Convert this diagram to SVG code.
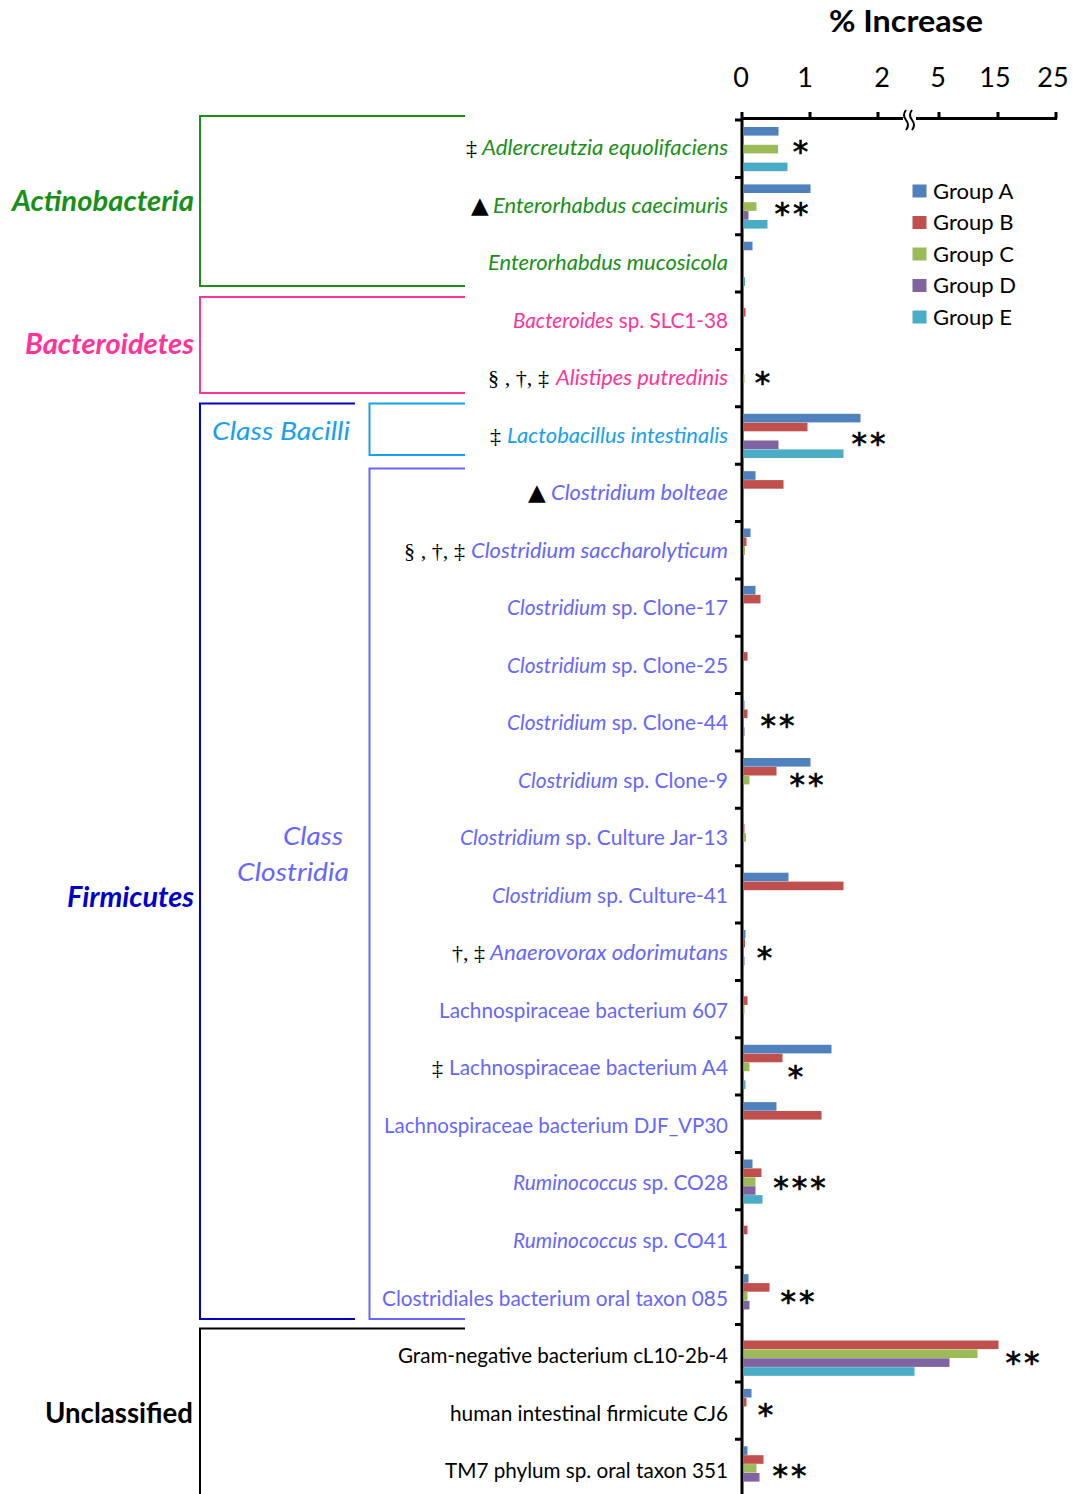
<svg xmlns="http://www.w3.org/2000/svg" width="1073" height="1494" viewBox="0 0 1073 1494">
<style>
.sp{font-family:Lato,"Open Sans","Liberation Sans",sans-serif;font-size:21px}
.it{font-style:italic}
.sym{font-family:"Liberation Serif","DejaVu Serif",serif;font-size:22px;fill:#000}
.tri{font-family:"DejaVu Sans",sans-serif;font-size:23px;fill:#000}
.phy{font-family:Lato,"Open Sans","Liberation Sans",sans-serif;font-size:28px;font-weight:bold}
.cls{font-family:Lato,"Open Sans","Liberation Sans",sans-serif;font-size:26px;font-style:italic}
.ax{font-family:Lato,"Open Sans","Liberation Sans",sans-serif;font-size:27px;fill:#000}
.lg{font-family:Lato,"Open Sans","Liberation Sans",sans-serif;font-size:22px;fill:#000}
.st{font-family:"DejaVu Sans",sans-serif;font-size:31px;fill:#000;stroke:#000;stroke-width:0.7;letter-spacing:3px}
.A{fill:#4F81BD}.B{fill:#C0504D}.C{fill:#9BBB59}.D{fill:#8064A2}.E{fill:#4BACC6}
.green{fill:#189018}.pink{fill:#FF3399}.lblue{fill:#18A0F0}.peri{fill:#6666FF}.dblue{fill:#0000CC}.blk{fill:#000}
.br{fill:none;stroke-width:2}
</style>

<g id="title"><text x="906" y="32" text-anchor="middle" font-family="Lato,'Open Sans','Liberation Sans',sans-serif" font-size="30" font-weight="bold" textLength="154" lengthAdjust="spacingAndGlyphs">% Increase</text></g>

<g id="axes" stroke="#000" stroke-width="3" fill="none">
<line x1="742" y1="112" x2="742" y2="1494"/>
<line x1="742" y1="118.5" x2="903" y2="118.5"/>
<line x1="916" y1="118.5" x2="1057" y2="118.5"/>
<path d="M810 112V118.5M878 112V118.5M939 112V118.5M998 112V118.5M1056 112V118.5"/>
<path stroke-width="2" d="M906 110q-4 5 0 10q4 5 0 10M912 110q-4 5 0 10q4 5 0 10"/>
<path d="M735 120H742M735 177.4H742M735 234.7H742M735 292.1H742M735 349.4H742M735 406.8H742M735 464.2H742M735 521.5H742M735 578.9H742M735 636.2H742M735 693.6H742M735 751H742M735 808.3H742M735 865.7H742M735 923H742M735 980.4H742M735 1037.8H742M735 1095.1H742M735 1152.5H742M735 1209.8H742M735 1267.2H742M735 1324.6H742M735 1381.9H742M735 1439.3H742"/>
</g>
<g id="axis-labels">
<text class="ax" x="741" y="87" text-anchor="middle">0</text>
<text class="ax" x="805" y="87" text-anchor="middle">1</text>
<text class="ax" x="882" y="87" text-anchor="middle">2</text>
<text class="ax" x="938" y="87" text-anchor="middle">5</text>
<text class="ax" x="995" y="87" text-anchor="middle">15</text>
<text class="ax" x="1053" y="87" text-anchor="middle">25</text>
</g>

<g id="legend">
<rect class="A" x="912.5" y="184.5" width="14" height="13"/><text class="lg" x="933" y="198.5">Group A</text>
<rect class="B" x="912.5" y="216" width="14" height="13"/><text class="lg" x="933" y="230">Group B</text>
<rect class="C" x="912.5" y="247.5" width="14" height="13"/><text class="lg" x="933" y="261.5">Group C</text>
<rect class="D" x="912.5" y="279" width="14" height="13"/><text class="lg" x="933" y="293">Group D</text>
<rect class="E" x="912.5" y="310.5" width="14" height="13"/><text class="lg" x="933" y="324.5">Group E</text>
</g>

<g id="bars">
<rect class="A" x="743.5" y="127" width="35" height="8.6"/><rect class="C" x="743.5" y="144.8" width="34.5" height="8.6"/><rect class="E" x="743.5" y="162.6" width="44" height="8.6"/>
<rect class="A" x="743.5" y="184.4" width="67" height="8.6"/><rect class="C" x="743.5" y="202.2" width="13" height="8.6"/><rect class="D" x="743.5" y="211.1" width="5" height="8.6"/><rect class="E" x="743.5" y="220" width="24" height="8.6"/>
<rect class="A" x="743.5" y="241.7" width="9" height="8.6"/><rect class="E" x="743.5" y="277.3" width="1.5" height="8.6"/>
<rect class="B" x="743.5" y="308" width="2" height="8.6"/>
<rect class="C" x="743.5" y="374.2" width="1" height="8.6"/>
<rect class="A" x="743.5" y="413.8" width="117" height="8.6"/><rect class="B" x="743.5" y="422.7" width="64" height="8.6"/><rect class="D" x="743.5" y="440.5" width="35" height="8.6"/><rect class="E" x="743.5" y="449.4" width="100" height="8.6"/>
<rect class="A" x="743.5" y="471.2" width="12" height="8.6"/><rect class="B" x="743.5" y="480.1" width="40" height="8.6"/>
<rect class="A" x="743.5" y="528.5" width="7" height="8.6"/><rect class="B" x="743.5" y="537.4" width="3" height="8.6"/><rect class="C" x="743.5" y="546.3" width="1.5" height="8.6"/>
<rect class="A" x="743.5" y="585.9" width="12" height="8.6"/><rect class="B" x="743.5" y="594.8" width="17" height="8.6"/>
<rect class="B" x="743.5" y="652.1" width="4" height="8.6"/>
<rect class="A" x="743.5" y="700.6" width="1" height="8.6"/><rect class="B" x="743.5" y="709.5" width="4" height="8.6"/><rect class="D" x="743.5" y="727.3" width="1" height="8.6"/>
<rect class="A" x="743.5" y="758" width="67" height="8.6"/><rect class="B" x="743.5" y="766.9" width="33" height="8.6"/><rect class="C" x="743.5" y="775.8" width="6" height="8.6"/>
<rect class="B" x="743.5" y="824.2" width="1" height="8.6"/><rect class="C" x="743.5" y="833.1" width="2.5" height="8.6"/>
<rect class="A" x="743.5" y="872.7" width="45" height="8.6"/><rect class="B" x="743.5" y="881.6" width="100" height="8.6"/>
<rect class="A" x="743.5" y="930" width="2" height="8.6"/><rect class="B" x="743.5" y="938.9" width="1.5" height="8.6"/><rect class="D" x="743.5" y="956.7" width="1" height="8.6"/>
<rect class="B" x="743.5" y="996.3" width="4" height="8.6"/><rect class="C" x="743.5" y="1005.2" width="1" height="8.6"/>
<rect class="A" x="743.5" y="1044.8" width="88" height="8.6"/><rect class="B" x="743.5" y="1053.7" width="39" height="8.6"/><rect class="C" x="743.5" y="1062.6" width="6" height="8.6"/><rect class="E" x="743.5" y="1080.4" width="2" height="8.6"/>
<rect class="A" x="743.5" y="1102.1" width="33" height="8.6"/><rect class="B" x="743.5" y="1111" width="78" height="8.6"/>
<rect class="A" x="743.5" y="1159.5" width="9" height="8.6"/><rect class="B" x="743.5" y="1168.4" width="18" height="8.6"/><rect class="C" x="743.5" y="1177.3" width="12" height="8.6"/><rect class="D" x="743.5" y="1186.2" width="12" height="8.6"/><rect class="E" x="743.5" y="1195.1" width="19" height="8.6"/>
<rect class="B" x="743.5" y="1225.7" width="4" height="8.6"/>
<rect class="A" x="743.5" y="1274.2" width="5" height="8.6"/><rect class="B" x="743.5" y="1283.1" width="26" height="8.6"/><rect class="C" x="743.5" y="1292" width="4" height="8.6"/><rect class="D" x="743.5" y="1300.9" width="6" height="8.6"/>
<rect class="B" x="743.5" y="1340.5" width="255" height="8.6"/><rect class="C" x="743.5" y="1349.4" width="234" height="8.6"/><rect class="D" x="743.5" y="1358.3" width="206" height="8.6"/><rect class="E" x="743.5" y="1367.2" width="171" height="8.6"/>
<rect class="A" x="743.5" y="1388.9" width="8" height="8.6"/><rect class="B" x="743.5" y="1397.8" width="3" height="8.6"/>
<rect class="A" x="743.5" y="1446.3" width="4" height="8.6"/><rect class="B" x="743.5" y="1455.2" width="20" height="8.6"/><rect class="C" x="743.5" y="1464.1" width="13" height="8.6"/><rect class="D" x="743.5" y="1473" width="16" height="8.6"/>
</g>

<g id="significance">
<text class="st" x="802" y="161.5" text-anchor="middle">*</text>
<text class="st" x="793" y="224" text-anchor="middle">**</text>
<text class="st" x="764" y="393" text-anchor="middle">*</text>
<text class="st" x="870" y="454" text-anchor="middle">**</text>
<text class="st" x="779" y="736" text-anchor="middle">**</text>
<text class="st" x="808" y="795" text-anchor="middle">**</text>
<text class="st" x="766" y="968" text-anchor="middle">*</text>
<text class="st" x="797" y="1087" text-anchor="middle">*</text>
<text class="st" x="801" y="1198" text-anchor="middle">***</text>
<text class="st" x="799" y="1312" text-anchor="middle">**</text>
<text class="st" x="1024" y="1373" text-anchor="middle">**</text>
<text class="st" x="767" y="1425" text-anchor="middle">*</text>
<text class="st" x="791" y="1486" text-anchor="middle">**</text>
</g>

<g id="brackets">
<path class="br" stroke="#189018" d="M465 116H200V286H465"/>
<path class="br" stroke="#FF3399" d="M465 297H200V393H465"/>
<path class="br" stroke="#0000CC" d="M355 403.5H200V1319H355"/>
<path class="br" stroke="#18A0F0" d="M465 403.5H369.5V455H465"/>
<path class="br" stroke="#6666FF" d="M465 468.5H369.5V1319H465"/>
<path class="br" stroke="#000" d="M465 1328.5H200V1494"/>
</g>

<g id="group-labels">
<text class="phy it green" x="194" y="211" text-anchor="end" textLength="182" lengthAdjust="spacingAndGlyphs">Actinobacteria</text>
<text class="phy it pink" x="194" y="354" text-anchor="end" textLength="169" lengthAdjust="spacingAndGlyphs">Bacteroidetes</text>
<text class="phy it dblue" x="194" y="907" text-anchor="end" textLength="127" lengthAdjust="spacingAndGlyphs">Firmicutes</text>
<text class="phy blk" x="193" y="1423" text-anchor="end" textLength="148" lengthAdjust="spacingAndGlyphs">Unclassified</text>
<text class="cls lblue" x="212" y="440" textLength="138" lengthAdjust="spacingAndGlyphs">Class Bacilli</text>
<text class="cls peri" x="343" y="845" text-anchor="end" textLength="60" lengthAdjust="spacingAndGlyphs">Class</text>
<text class="cls peri" x="349" y="881" text-anchor="end" textLength="112" lengthAdjust="spacingAndGlyphs">Clostridia</text>
</g>

<g id="symbols">
<text class="sym" x="466" y="155">‡</text>
<text class="tri" x="471" y="212.5">▲</text>
<text class="sym" x="488" y="385" textLength="61" lengthAdjust="spacingAndGlyphs">§ , †, ‡</text>
<text class="sym" x="490" y="442.5">‡</text>
<text class="tri" x="528" y="500">▲</text>
<text class="sym" x="404" y="557.5" textLength="61" lengthAdjust="spacingAndGlyphs">§ , †, ‡</text>
<text class="sym" x="452" y="960" textLength="33" lengthAdjust="spacingAndGlyphs">†, ‡</text>
<text class="sym" x="432" y="1075">‡</text>
</g>

<g id="taxa">
<g id="n0"><text class="sp it green" x="728" y="155" text-anchor="end" textLength="246" lengthAdjust="spacingAndGlyphs">Adlercreutzia equolifaciens</text></g>
<g id="n1"><text class="sp it green" x="728" y="212.5" text-anchor="end" textLength="235" lengthAdjust="spacingAndGlyphs">Enterorhabdus caecimuris</text></g>
<g id="n2"><text class="sp it green" x="728" y="270" text-anchor="end" textLength="240" lengthAdjust="spacingAndGlyphs">Enterorhabdus mucosicola</text></g>
<g id="n3"><text class="sp pink" x="728" y="327.5" text-anchor="end" textLength="215" lengthAdjust="spacingAndGlyphs"><tspan class="it">Bacteroides</tspan> sp. SLC1-38</text></g>
<g id="n4"><text class="sp it pink" x="728" y="385" text-anchor="end" textLength="172" lengthAdjust="spacingAndGlyphs">Alistipes putredinis</text></g>
<g id="n5"><text class="sp it lblue" x="728" y="442.5" text-anchor="end" textLength="221" lengthAdjust="spacingAndGlyphs">Lactobacillus intestinalis</text></g>
<g id="n6"><text class="sp it peri" x="728" y="500" text-anchor="end" textLength="177" lengthAdjust="spacingAndGlyphs">Clostridium bolteae</text></g>
<g id="n7"><text class="sp it peri" x="728" y="557.5" text-anchor="end" textLength="257" lengthAdjust="spacingAndGlyphs">Clostridium saccharolyticum</text></g>
<g id="n8"><text class="sp peri" x="728" y="615" text-anchor="end" textLength="221" lengthAdjust="spacingAndGlyphs"><tspan class="it">Clostridium</tspan> sp. Clone-17</text></g>
<g id="n9"><text class="sp peri" x="728" y="672.5" text-anchor="end" textLength="221" lengthAdjust="spacingAndGlyphs"><tspan class="it">Clostridium</tspan> sp. Clone-25</text></g>
<g id="n10"><text class="sp peri" x="728" y="730" text-anchor="end" textLength="221" lengthAdjust="spacingAndGlyphs"><tspan class="it">Clostridium</tspan> sp. Clone-44</text></g>
<g id="n11"><text class="sp peri" x="728" y="787.5" text-anchor="end" textLength="210" lengthAdjust="spacingAndGlyphs"><tspan class="it">Clostridium</tspan> sp. Clone-9</text></g>
<g id="n12"><text class="sp peri" x="728" y="845" text-anchor="end" textLength="268" lengthAdjust="spacingAndGlyphs"><tspan class="it">Clostridium</tspan> sp. Culture Jar-13</text></g>
<g id="n13"><text class="sp peri" x="728" y="902.5" text-anchor="end" textLength="236" lengthAdjust="spacingAndGlyphs"><tspan class="it">Clostridium</tspan> sp. Culture-41</text></g>
<g id="n14"><text class="sp it peri" x="728" y="960" text-anchor="end" textLength="238" lengthAdjust="spacingAndGlyphs">Anaerovorax odorimutans</text></g>
<g id="n15"><text class="sp peri" x="728" y="1017.5" text-anchor="end" textLength="289" lengthAdjust="spacingAndGlyphs">Lachnospiraceae bacterium 607</text></g>
<g id="n16"><text class="sp peri" x="728" y="1075" text-anchor="end" textLength="279" lengthAdjust="spacingAndGlyphs">Lachnospiraceae bacterium A4</text></g>
<g id="n17"><text class="sp peri" x="728" y="1132.5" text-anchor="end" textLength="344" lengthAdjust="spacingAndGlyphs">Lachnospiraceae bacterium DJF_VP30</text></g>
<g id="n18"><text class="sp peri" x="728" y="1190" text-anchor="end" textLength="215" lengthAdjust="spacingAndGlyphs"><tspan class="it">Ruminococcus</tspan> sp. CO28</text></g>
<g id="n19"><text class="sp peri" x="728" y="1248" text-anchor="end" textLength="215" lengthAdjust="spacingAndGlyphs"><tspan class="it">Ruminococcus</tspan> sp. CO41</text></g>
<g id="n20"><text class="sp peri" x="728" y="1305.5" text-anchor="end" textLength="346" lengthAdjust="spacingAndGlyphs">Clostridiales bacterium oral taxon 085</text></g>
<g id="n21"><text class="sp blk" x="728" y="1363" text-anchor="end" textLength="330" lengthAdjust="spacingAndGlyphs">Gram-negative bacterium cL10-2b-4</text></g>
<g id="n22"><text class="sp blk" x="728" y="1420.5" text-anchor="end" textLength="278" lengthAdjust="spacingAndGlyphs">human intestinal firmicute CJ6</text></g>
<g id="n23"><text class="sp blk" x="728" y="1478" text-anchor="end" textLength="283" lengthAdjust="spacingAndGlyphs">TM7 phylum sp. oral taxon 351</text></g>
</g>
</svg>
